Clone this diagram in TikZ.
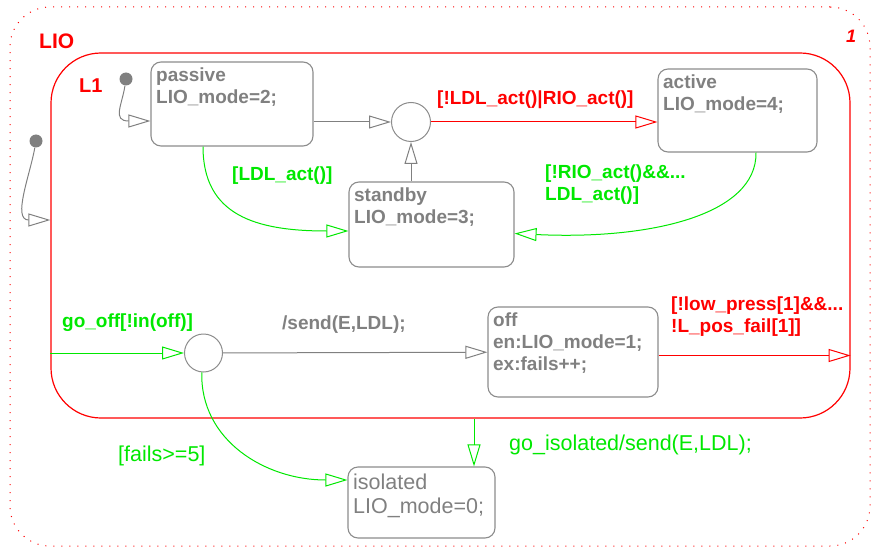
\documentclass[tikz,border=0pt]{standalone}
\usepackage{fontspec}
\setmainfont{Liberation Sans}
\usepackage{xcolor}
\usetikzlibrary{arrows.meta}
\definecolor{stgray}{RGB}{128,128,128}
\definecolor{stline}{RGB}{140,140,140}
\definecolor{stgreen}{RGB}{0,232,0}
\definecolor{stred}{RGB}{255,0,0}
\newcommand{\boldtxt}{\fontsize{19}{22}\selectfont\bfseries}
\newcommand{\plaintxt}{\fontsize{21.5}{24}\selectfont}

\begin{document}
\begin{tikzpicture}[x=1pt, y=-1pt,
  stbox/.style={draw=stline, line width=1.1pt, rounded corners=10pt, inner sep=0pt},
  junc/.style={circle, draw=stline, line width=1pt, inner sep=0pt, minimum size=39pt},
  initdot/.style={circle, fill=stgray, inner sep=0pt, minimum size=13pt},
  txt/.style={anchor=north west, align=left, inner sep=0pt, execute at begin node=\strut},
  tr/.style={-{Triangle[open, length=22pt, width=13pt]}, line width=1pt}]
\useasboundingbox (0,0) rectangle (877,548);
% chart LIO
\node[draw=stred, line width=1pt, dash pattern=on 1pt off 7pt, rounded corners=40pt, minimum width=860pt, minimum height=539pt, inner sep=0pt] (LIO) at (440,276.5) {};
\node[txt, text=stred, font=\fontsize{21}{25}\selectfont\bfseries] (LIOname) at (39,30.5) {LIO};
\node[txt, text=stred, font=\fontsize{18}{22}\selectfont\bfseries\itshape] (LIOnum) at (846,26.6) {1};
% superstate L1
\node[draw=stred, line width=1.2pt, rounded corners=50pt, minimum width=799pt, minimum height=365pt, inner sep=0pt] (L1) at (450.5,235.5) {};
\node[txt, text=stred, font=\fontsize{20}{24}\selectfont\bfseries] (L1name) at (79,75.2) {L1};
% states
\node[stbox, minimum width=162pt, minimum height=84pt] (passive) at (232,104) {};
\node[txt, text=stgray, font=\boldtxt] (passivetxt) at ([xshift=5.5pt, yshift=-6pt]passive.north west) {passive\\LIO\_mode=2;};
\node[stbox, minimum width=159pt, minimum height=83pt] (active) at (737.5,110.5) {};
\node[txt, text=stgray, font=\boldtxt] (activetxt) at ([xshift=5.5pt, yshift=-6.5pt]active.north west) {active\\LIO\_mode=4;};
\node[stbox, minimum width=165pt, minimum height=85pt] (standby) at (431.5,224.5) {};
\node[txt, text=stgray, font=\boldtxt] (standbytxt) at ([xshift=5.5pt, yshift=-6pt]standby.north west) {standby\\LIO\_mode=3;};
\node[stbox, minimum width=170pt, minimum height=90pt] (off) at (573,352) {};
\node[txt, text=stgray, font=\boldtxt] (offtxt) at ([xshift=5.5pt, yshift=-6pt]off.north west) {off\\en:LIO\_mode=1;\\ex:fails++;};
\node[stbox, minimum width=147pt, minimum height=71pt] (isolated) at (421.5,502.5) {};
\node[txt, text=stgray, font=\plaintxt] (isolatedtxt) at ([xshift=5.5pt, yshift=-7pt]isolated.north west) {isolated\\LIO\_mode=0;};
% junctions and default transitions
\node[junc] (j1) at (411,122) {};
\node[junc, minimum size=38pt] (j2) at (203.5,353) {};
\node[initdot] (dot1) at (126,79) {};
\node[initdot] (dot0) at (36,141) {};
% transitions
\draw[tr, stgray] (dot1) .. controls (122,105) and (112,121) .. ([yshift=-17pt]passive.west);
\draw[tr, stgray] (dot0) .. controls (30,175) and (12,220) .. ([yshift=15.5pt]L1.west);
\draw[tr, stgray] ([yshift=-18pt]passive.east) -- (j1);
\draw[tr, stred] (j1) -- ([yshift=-11.5pt]active.west);
\draw[tr, stgray] ([xshift=-20.5pt]standby.north) -- (j1);
\draw[tr, stgreen] ([xshift=-29pt]passive.south) .. controls (203,215) and (255,231) .. ([yshift=-6.5pt]standby.west);
\draw[tr, stgreen] ([xshift=18.5pt]active.south) .. controls (757,215) and (650,240) .. ([yshift=-9pt]standby.east);
\draw[tr, stgreen] ([yshift=-117.5pt]L1.west) -- (j2);
\draw[tr, stgray] (j2) -- (off);
\draw[tr, stred] ([yshift=-3.5pt]off.east) -- ([yshift=-120pt]L1.east);
\draw[tr, stgreen] (j2.-95) .. controls (200,440) and (265,480) .. ([yshift=22.5pt]isolated.west);
\draw[tr, stgreen] ([xshift=23.5pt]L1.south) -- ([xshift=52.5pt]isolated.north);
% labels
\node[txt, text=stred, font=\boldtxt] (lbl1) at (437,88.6) {[!LDL\_act()|RIO\_act()]};
\node[txt, text=stgreen, font=\boldtxt] (lbl2) at (232,164.6) {[LDL\_act()]};
\node[txt, text=stgreen, font=\boldtxt] (lbl3) at (545,164.6) {[!RIO\_act()\&\&...\\LDL\_act()]};
\node[txt, text=stgreen, font=\boldtxt] (lbl4) at (62,311.6) {go\_off[!in(off)]};
\node[txt, text=stgray, font=\boldtxt] (lbl5) at (282,313.6) {/send(E,LDL);};
\node[txt, text=stred, font=\boldtxt] (lbl6) at (671,296.6) {[!low\_press[1]\&\&...\\!L\_pos\_fail[1]]};
\node[txt, text=stgreen, font=\plaintxt] (lbl7) at (118,444.2) {[fails>=5]};
\node[txt, text=stgreen, font=\plaintxt] (lbl8) at (509,433.2) {go\_isolated/send(E,LDL);};
\end{tikzpicture}
\end{document}
